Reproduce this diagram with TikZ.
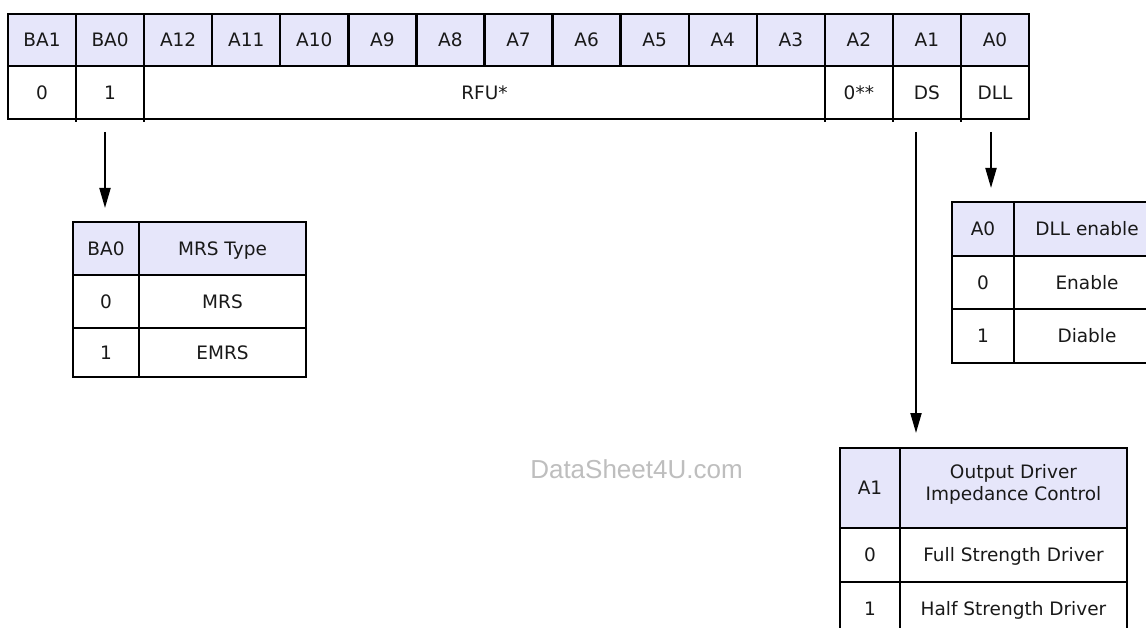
\documentclass[tikz,border=0pt]{standalone}
\usepackage{fontspec}
\setmainfont{DejaVu Sans}
\newfontfamily\wmfont{Liberation Sans}
\usetikzlibrary{arrows.meta}
\definecolor{hdrfill}{RGB}{230,230,250}
\definecolor{txtcol}{RGB}{25,25,25}
\definecolor{wmcol}{RGB}{190,190,190}
\newcommand\regcell[7]{%
  \node[cell,#7,minimum width={(#4)-(#2)},minimum height={(#5)-(#3)}]
    (#1) at ({((#2)+(#4))/2},{((#3)+(#5))/2}) {#6};}
\begin{document}
\begin{tikzpicture}[x=1pt,y=-1pt,
  cell/.style={draw=black,line width=2.4pt,inner sep=0pt,outer sep=0pt,
    font=\fontsize{18.5}{22}\selectfont,text=txtcol,
    text height=13.5pt,text depth=0pt,align=center},
  hdr/.style={fill=hdrfill},
  body/.style={fill=white},
  tickln/.style={line width=2.4pt},
  arr/.style={line width=2pt,-{Triangle[length=20pt,width=11pt]}},
  watermark/.style={font=\wmfont\fontsize{26}{30}\selectfont,text=wmcol,inner sep=0pt}]
\useasboundingbox (0,0) rectangle (1146,628);
\clip (0,0) rectangle (1146,628);
\fill[white] (0,0) rectangle (1146,628);

% register table, header row
\foreach \t [count=\i from 0] in {BA1,BA0,A12,A11,A10,A9,A8,A7,A6,A5,A4,A3,A2,A1,A0}{
  \regcell{h\i}{8+68.07*\i}{14}{8+68.07*(\i+1)}{66}{\t}{hdr}
}
% register table, value row
\regcell{v0}{8}{66}{76.07}{119}{0}{body}
\regcell{v1}{76.07}{66}{144.14}{119}{1}{body}
\regcell{rfu}{144.14}{66}{824.84}{119}{RFU*}{body}
\regcell{v12}{824.84}{66}{892.91}{119}{0**}{body}
\regcell{v13}{892.91}{66}{960.98}{119}{DS}{body}
\regcell{v14}{960.98}{66}{1029.05}{119}{DLL}{body}
\foreach \xx in {76.07,144.14,824.84,892.91,960.98}{
  \draw[tickln] (\xx,119) -- (\xx,122);
}

% MRS type table
\regcell{m00}{73}{222}{139}{275}{BA0}{hdr}
\regcell{m01}{139}{222}{306}{275}{MRS Type}{hdr}
\regcell{m10}{73}{275}{139}{328}{0}{body}
\regcell{m11}{139}{275}{306}{328}{MRS}{body}
\regcell{m20}{73}{328}{139}{377}{1}{body}
\regcell{m21}{139}{328}{306}{377}{EMRS}{body}

% DLL enable table
\regcell{d00}{952}{202}{1014}{256}{A0}{hdr}
\regcell{d01}{1014}{202}{1160}{256}{DLL enable}{hdr}
\regcell{d10}{952}{256}{1014}{309}{0}{body}
\regcell{d11}{1014}{256}{1160}{309}{Enable}{body}
\regcell{d20}{952}{309}{1014}{363}{1}{body}
\regcell{d21}{1014}{309}{1160}{363}{Diable}{body}

% Output driver table
\regcell{o00}{840}{448}{900}{528}{A1}{hdr}
\regcell{o01}{900}{448}{1127}{528}{}{hdr}
\node[font=\fontsize{18.5}{22}\selectfont,text=txtcol,align=center,inner sep=0pt]
  (o01t) at (1013.5,484) {Output Driver\\Impedance Control};
\regcell{o10}{840}{528}{900}{582}{0}{body}
\regcell{o11}{900}{528}{1127}{582}{Full Strength Driver}{body}
\regcell{o20}{840}{582}{900}{636}{1}{body}
\regcell{o21}{900}{582}{1127}{636}{Half Strength Driver}{body}

% arrows
\coordinate (aBs) at (105,132);
\coordinate (aBe) at (105,208);
\coordinate (aDs) at (916,132);
\coordinate (aDe) at (916,433);
\coordinate (aLs) at (991,132);
\coordinate (aLe) at (991,188);
\draw[arr] (aBs) -- (aBe);
\draw[arr] (aDs) -- (aDe);
\draw[arr] (aLs) -- (aLe);

% watermark
\node[watermark,anchor=base] (wm) at (636.5,478) {DataSheet4U.com};
\end{tikzpicture}
\end{document}
